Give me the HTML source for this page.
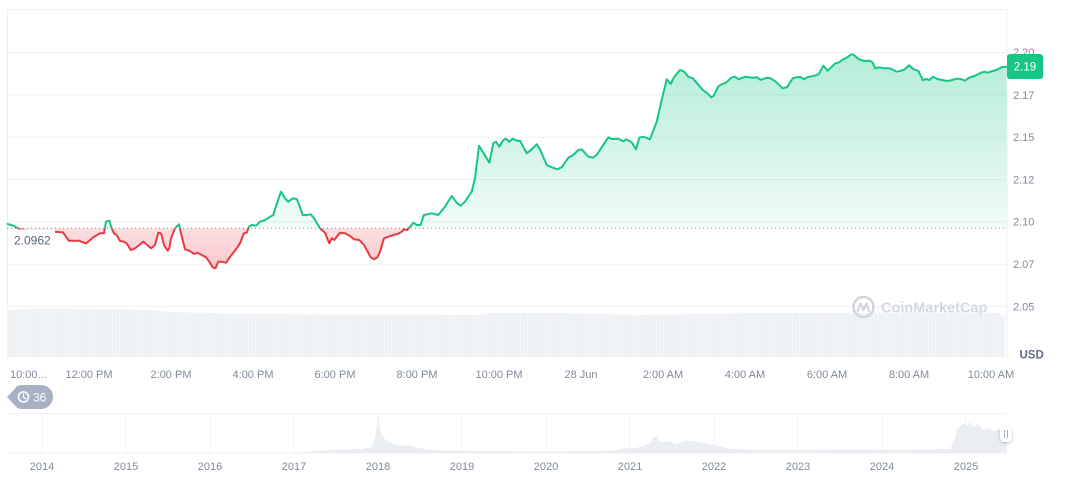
<!DOCTYPE html>
<html><head><meta charset="utf-8"><style>
html,body{margin:0;padding:0;background:#fff;}
svg{display:block;font-family:"Liberation Sans",sans-serif;}
</style></head><body>
<svg width="1072" height="477" viewBox="0 0 1072 477" xmlns="http://www.w3.org/2000/svg" xmlns:xlink="http://www.w3.org/1999/xlink">
<defs>
<linearGradient id="gg" x1="0" y1="54" x2="0" y2="228.3" gradientUnits="userSpaceOnUse">
<stop offset="0" stop-color="#16c784" stop-opacity="0.32"/>
<stop offset="1" stop-color="#16c784" stop-opacity="0.06"/>
</linearGradient>
<linearGradient id="rg" x1="0" y1="228.3" x2="0" y2="270" gradientUnits="userSpaceOnUse">
<stop offset="0" stop-color="#ea3943" stop-opacity="0.16"/>
<stop offset="1" stop-color="#ea3943" stop-opacity="0.28"/>
</linearGradient>
<clipPath id="top"><rect x="0" y="0" width="1072" height="228.3"/></clipPath>
<clipPath id="bot"><rect x="0" y="228.3" width="1072" height="200"/></clipPath>
<pattern id="vs" width="3.4" height="10" patternUnits="userSpaceOnUse"><rect x="0" y="0" width="0.7" height="10" fill="#fff" opacity="0.45"/></pattern>
<filter id="sh" x="-50%" y="-50%" width="200%" height="200%"><feDropShadow dx="0" dy="1" stdDeviation="1.2" flood-color="#000" flood-opacity="0.25"/></filter>
<polyline id="pl" fill="none" points="7.6,224 13.8,225.8 19,229 30,231 45,231.5 55.1,231.8 63,232.4 68.9,240.8 79.2,240.8 86.1,243.5 93,237.5 100,233.3 104,233.3 106,221.7 109.3,220.7 111.7,228.3 114,233.3 116.7,235 120,241 124,241.7 126.7,243.3 130.7,250 135,248.3 139.3,245 143.3,241.7 147.3,245 151,248.3 155,245 158.3,232.7 161,233.3 164,245 167.7,250.7 169.3,248.3 171,238.3 175,228.3 179,224.3 181,233.3 185,249.3 189.3,250.7 194.3,254 197.3,252.7 201.7,255 206,257.3 209.3,261.7 212.7,267.3 215.3,268.3 218.3,261.7 221.7,261.7 226,262.7 230.7,256 236,249.3 240,243.3 244,233.3 246.7,232.7 249,226.7 251.7,225 256,225.7 260,221.7 265,220 269.3,217.3 273.3,215 276.7,204 281,191.7 285,198.3 288.3,201.7 292.7,198.3 296.7,199 299.3,205 302.7,215 306.7,215 310.7,214.3 314,218.3 320,228.3 325,232.7 329.3,243.3 331.7,238.3 334.3,240 337.3,236 340,232.7 345,233.3 350,236 354,239.3 359.3,240 364,245 367.7,251.7 370.7,257.3 374,259.3 377.3,257.3 380,251.7 384,238.3 388.3,236.7 393.3,235 397.3,234 401.7,231.7 404,229.3 407.3,230 410,226.7 413.3,222.7 416.7,225 420.5,225 424,215 431.7,213.3 438.3,215 445,206.7 451.7,196 456.7,202.7 460.7,205.7 465,201.7 471.7,191.7 475,178.3 479,145.7 489.3,162.7 493.3,143.3 496,141.7 499.3,146.7 503.3,140 506,138.7 509.3,141.7 512.7,138.7 516.7,140.7 520,140.7 526.7,153.3 531.7,149.3 536.7,144.3 540,149.3 546.7,165 551.7,167.3 557.3,169.3 561.7,167.3 568.3,157.7 573.3,155 578.3,150 581.7,149.3 588.3,156.7 592.7,157.7 596.7,155 601.7,147.3 608.3,137.3 611.7,139 618.3,138.7 623.3,141.3 626,139.3 631.7,142.3 636,149.3 639.3,137.7 643.3,136.7 650,139.3 656.7,121.7 661.7,100 666.7,79.3 670.7,84 674,77.3 680,70 684.2,71.7 688.3,76.7 692.7,78.3 697.1,83.3 702.2,89.3 707.3,93.3 711.4,97.3 713.7,96 718.1,86.7 721.5,84.3 726,82.7 731.7,77.3 735.1,76.7 738.5,79.3 745.3,76.7 752.1,77.7 757.2,77.3 760.6,80 766.7,77.7 770.7,78.3 775.8,81.7 782.6,88.3 787,87.3 792.8,78.3 797.9,77 801.3,77.3 804,79.3 808,77 814.9,75.7 818.9,74 823.3,65.7 827.7,70.7 831.8,66.7 835.2,63.3 838.6,62.7 842,60 847.1,57.3 851.5,54.3 853.9,55 859,59.3 864,61 869.1,60.7 872.5,62.3 875.3,68.3 879.3,67.3 884.4,68.3 889.5,68.3 893.6,70 896.3,71.7 901.4,70.7 904.8,69.3 909.2,65.3 913.3,69 918.4,71 922.8,80 926.8,79 929.6,80 933,76.7 937,79 942.1,80 947.2,81 952.3,80 956.7,78.7 960.8,79 964.8,80.7 969.2,77.7 974.3,76 981.1,72.7 984.5,71.7 987.2,72.7 993,71 996.4,70 1001.5,67.3 1006.6,66.7"/>
<polygon id="pa" points="7.6,228.3 7.6,224 13.8,225.8 19,229 30,231 45,231.5 55.1,231.8 63,232.4 68.9,240.8 79.2,240.8 86.1,243.5 93,237.5 100,233.3 104,233.3 106,221.7 109.3,220.7 111.7,228.3 114,233.3 116.7,235 120,241 124,241.7 126.7,243.3 130.7,250 135,248.3 139.3,245 143.3,241.7 147.3,245 151,248.3 155,245 158.3,232.7 161,233.3 164,245 167.7,250.7 169.3,248.3 171,238.3 175,228.3 179,224.3 181,233.3 185,249.3 189.3,250.7 194.3,254 197.3,252.7 201.7,255 206,257.3 209.3,261.7 212.7,267.3 215.3,268.3 218.3,261.7 221.7,261.7 226,262.7 230.7,256 236,249.3 240,243.3 244,233.3 246.7,232.7 249,226.7 251.7,225 256,225.7 260,221.7 265,220 269.3,217.3 273.3,215 276.7,204 281,191.7 285,198.3 288.3,201.7 292.7,198.3 296.7,199 299.3,205 302.7,215 306.7,215 310.7,214.3 314,218.3 320,228.3 325,232.7 329.3,243.3 331.7,238.3 334.3,240 337.3,236 340,232.7 345,233.3 350,236 354,239.3 359.3,240 364,245 367.7,251.7 370.7,257.3 374,259.3 377.3,257.3 380,251.7 384,238.3 388.3,236.7 393.3,235 397.3,234 401.7,231.7 404,229.3 407.3,230 410,226.7 413.3,222.7 416.7,225 420.5,225 424,215 431.7,213.3 438.3,215 445,206.7 451.7,196 456.7,202.7 460.7,205.7 465,201.7 471.7,191.7 475,178.3 479,145.7 489.3,162.7 493.3,143.3 496,141.7 499.3,146.7 503.3,140 506,138.7 509.3,141.7 512.7,138.7 516.7,140.7 520,140.7 526.7,153.3 531.7,149.3 536.7,144.3 540,149.3 546.7,165 551.7,167.3 557.3,169.3 561.7,167.3 568.3,157.7 573.3,155 578.3,150 581.7,149.3 588.3,156.7 592.7,157.7 596.7,155 601.7,147.3 608.3,137.3 611.7,139 618.3,138.7 623.3,141.3 626,139.3 631.7,142.3 636,149.3 639.3,137.7 643.3,136.7 650,139.3 656.7,121.7 661.7,100 666.7,79.3 670.7,84 674,77.3 680,70 684.2,71.7 688.3,76.7 692.7,78.3 697.1,83.3 702.2,89.3 707.3,93.3 711.4,97.3 713.7,96 718.1,86.7 721.5,84.3 726,82.7 731.7,77.3 735.1,76.7 738.5,79.3 745.3,76.7 752.1,77.7 757.2,77.3 760.6,80 766.7,77.7 770.7,78.3 775.8,81.7 782.6,88.3 787,87.3 792.8,78.3 797.9,77 801.3,77.3 804,79.3 808,77 814.9,75.7 818.9,74 823.3,65.7 827.7,70.7 831.8,66.7 835.2,63.3 838.6,62.7 842,60 847.1,57.3 851.5,54.3 853.9,55 859,59.3 864,61 869.1,60.7 872.5,62.3 875.3,68.3 879.3,67.3 884.4,68.3 889.5,68.3 893.6,70 896.3,71.7 901.4,70.7 904.8,69.3 909.2,65.3 913.3,69 918.4,71 922.8,80 926.8,79 929.6,80 933,76.7 937,79 942.1,80 947.2,81 952.3,80 956.7,78.7 960.8,79 964.8,80.7 969.2,77.7 974.3,76 981.1,72.7 984.5,71.7 987.2,72.7 993,71 996.4,70 1001.5,67.3 1006.6,66.7 1006.6,228.3"/>
</defs>
<rect width="1072" height="477" fill="#fff"/>

<!-- gridlines -->
<g stroke="#eef1f4" stroke-width="1">
<line x1="7" y1="52.5" x2="1007" y2="52.5"/>
<line x1="7" y1="94.9" x2="1007" y2="94.9"/>
<line x1="7" y1="137.2" x2="1007" y2="137.2"/>
<line x1="7" y1="179.5" x2="1007" y2="179.5"/>
<line x1="7" y1="221.8" x2="1007" y2="221.8"/>
<line x1="7" y1="264.2" x2="1007" y2="264.2"/>
<line x1="7" y1="306.6" x2="1007" y2="306.6"/>
</g>
<!-- borders -->
<g stroke="#eceff3" stroke-width="1">
<line x1="7" y1="9.5" x2="1007" y2="9.5"/>
<line x1="7.5" y1="9.5" x2="7.5" y2="358"/>
<line x1="1007" y1="9.5" x2="1007" y2="360"/>
</g>

<!-- volume -->
<polygon fill="#eef1f4" points="7,357 7,310 30,309 38,308 150,310 170,312 250,314 480,315 490,313 560,313 640,315 700,314 750,313 1000,313 1001,316 1005,316 1005,357"/>
<polygon fill="url(#vs)" points="7,357 7,310 30,309 38,308 150,310 170,312 250,314 480,315 490,313 560,313 640,315 700,314 750,313 1000,313 1001,316 1005,316 1005,357"/>

<!-- watermark -->
<circle cx="863.5" cy="307" r="10" fill="none" stroke="#d0d5dc" stroke-width="2.4"/>
<path d="M857.5,311 L860.5,303.5 L863.5,310 L866.5,303.5 L869,311" fill="none" stroke="#d0d5dc" stroke-width="2.2" stroke-linejoin="round" stroke-linecap="round"/>
<text x="881" y="312.5" font-size="14.5" font-weight="bold" fill="#d4d9df">CoinMarketCap</text>

<!-- price area -->
<use xlink:href="#pa" href="#pa" clip-path="url(#top)" fill="url(#gg)"/>
<use xlink:href="#pa" href="#pa" clip-path="url(#bot)" fill="url(#rg)"/>

<!-- line -->
<use xlink:href="#pl" href="#pl" clip-path="url(#top)" stroke="#16c784" stroke-width="2" stroke-linejoin="round" stroke-linecap="round"/>
<use xlink:href="#pl" href="#pl" clip-path="url(#bot)" stroke="#ea3943" stroke-width="2" stroke-linejoin="round" stroke-linecap="round"/>

<!-- baseline label box & dotted line -->
<rect x="8" y="229.4" width="47" height="21" fill="#fff"/>
<line x1="7" y1="228.3" x2="1007" y2="228.3" stroke="#7d8699" stroke-width="1" stroke-dasharray="1 3"/>
<text x="14" y="244.3" font-size="12" fill="#58667e">2.0962</text>

<!-- y axis labels -->
<g font-size="11" fill="#808a9d">
<text x="1013" y="56">2.20</text>
<text x="1013" y="98.8">2.17</text>
<text x="1013" y="141.1">2.15</text>
<text x="1013" y="183.4">2.12</text>
<text x="1013" y="225.7">2.10</text>
<text x="1013" y="268.1">2.07</text>
<text x="1013" y="310.5">2.05</text>
</g>
<rect x="1007" y="54" width="36" height="25" rx="3" fill="#16c784"/>
<text x="1025" y="70.5" font-size="11.5" fill="#fff" text-anchor="middle">2.19</text>
<text x="1019.5" y="358.5" font-size="11.5" font-weight="bold" fill="#616e85">USD</text>

<!-- x axis labels -->
<g font-size="11" fill="#808a9d" text-anchor="middle">
<text x="10" y="378" text-anchor="start">10:00...</text>
<text x="89" y="378">12:00 PM</text>
<text x="171" y="378">2:00 PM</text>
<text x="253" y="378">4:00 PM</text>
<text x="335" y="378">6:00 PM</text>
<text x="417" y="378">8:00 PM</text>
<text x="499" y="378">10:00 PM</text>
<text x="581" y="378">28 Jun</text>
<text x="663" y="378">2:00 AM</text>
<text x="745" y="378">4:00 AM</text>
<text x="827" y="378">6:00 AM</text>
<text x="909" y="378">8:00 AM</text>
<text x="991" y="378">10:00 AM</text>
</g>

<!-- history pill -->
<path d="M7,397 L15,388.5 Q17,385 21,385 L41,385 A12,12 0 0 1 41,409 L21,409 Q17,409 15,405.5 Z" fill="#a7b1c3"/>
<circle cx="23.5" cy="397" r="5" fill="none" stroke="#fff" stroke-width="1.5"/>
<path d="M23.5,394 L23.5,397.3 L25.8,398.6" fill="none" stroke="#fff" stroke-width="1.3" stroke-linecap="round"/>
<text x="33" y="401.5" font-size="12" fill="#fff">36</text>

<!-- navigator -->
<g stroke="#f0f2f5" stroke-width="1">
<line x1="7" y1="413.5" x2="1007" y2="413.5"/>
<line x1="42" y1="413.5" x2="42" y2="453"/>
<line x1="126" y1="413.5" x2="126" y2="453"/>
<line x1="210" y1="413.5" x2="210" y2="453"/>
<line x1="294" y1="413.5" x2="294" y2="453"/>
<line x1="378" y1="413.5" x2="378" y2="453"/>
<line x1="462" y1="413.5" x2="462" y2="453"/>
<line x1="546" y1="413.5" x2="546" y2="453"/>
<line x1="630" y1="413.5" x2="630" y2="453"/>
<line x1="714" y1="413.5" x2="714" y2="453"/>
<line x1="798" y1="413.5" x2="798" y2="453"/>
<line x1="882" y1="413.5" x2="882" y2="453"/>
<line x1="966" y1="413.5" x2="966" y2="453"/>
<line x1="7" y1="453" x2="1007" y2="453"/>
</g>
<polygon fill="#eaedf1" points="7,453 300,453 315,451 330,450 345,449.5 362,449 372,447 375,438 377,425 378.5,415 380,428 382,436 386,440 392,443 400,446 408,445 418,448 432,450 450,450.5 470,451 540,451.5 600,451 620,450 624,447.5 628,449 640,447 650,443 654,437 657,436 660,442 668,441 676,444 684,441 694,441 704,443 714,445 730,449 760,450 800,450 850,449.5 900,450 950,449 954,441 957,430 960,426 964,423 967,426 970,422 974,427 978,424 983,430 988,428 994,431 1000,429 1007,430 1007,453"/>
<g font-size="11" fill="#808a9d" text-anchor="middle">
<text x="42" y="470">2014</text>
<text x="126" y="470">2015</text>
<text x="210" y="470">2016</text>
<text x="294" y="470">2017</text>
<text x="378" y="470">2018</text>
<text x="462" y="470">2019</text>
<text x="546" y="470">2020</text>
<text x="630" y="470">2021</text>
<text x="714" y="470">2022</text>
<text x="798" y="470">2023</text>
<text x="882" y="470">2024</text>
<text x="966" y="470">2025</text>
</g>
<rect x="1000" y="426" width="12" height="16" rx="4" fill="#fff" filter="url(#sh)"/>
<line x1="1004.5" y1="430" x2="1004.5" y2="438" stroke="#a7b1c3" stroke-width="1"/>
<line x1="1007.5" y1="430" x2="1007.5" y2="438" stroke="#a7b1c3" stroke-width="1"/>
</svg>
</body></html>
